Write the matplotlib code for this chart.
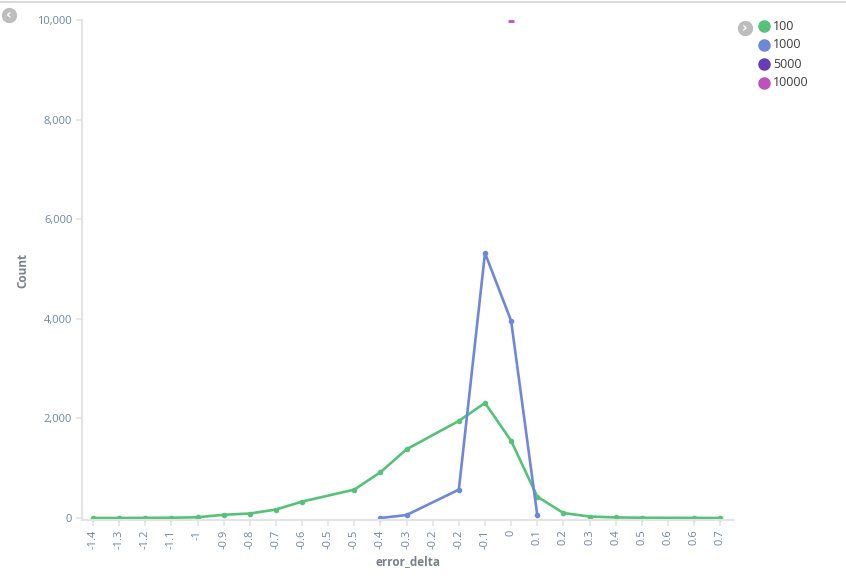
import numpy as np
import matplotlib
matplotlib.use('Agg')
import matplotlib.pyplot as plt
from matplotlib.lines import Line2D

plt.rcParams['font.family'] = ['Open Sans', 'DejaVu Sans']

#%% data (index = position on the x axis)
tick_labels = ['-1.4', '-1.3', '-1.2', '-1.1', '-1', '-0.9', '-0.8', '-0.7', '-0.6',
               '-0.5', '-0.5', '-0.4', '-0.3', '-0.2', '-0.2', '-0.1', '0', '0.1',
               '0.2', '0.3', '0.4', '0.5', '0.6', '0.6', '0.7']
nan = np.nan
count_100 = [0, 0, 3, 5, 15, 65, 90, 170, 330, nan, 570, 920, 1380, nan, 1950,
             2310, 1550, 430, 100, 30, 12, 5, nan, 2, 0]
count_1000 = [nan]*11 + [0, 60, nan, 570, 5320, 3960, 60] + [nan]*7
count_5000 = [nan]*25
count_10000 = [nan]*16 + [9970] + [nan]*8
series_names = ['100', '1000', '5000', '10000']
colors = ['#57c17b', '#6f87d8', '#663db8', '#bc52bc']

tick_col = '#6d84a0'
title_col = '#7b8087'
axis_col = '#e4e4e4'

#%%
fig = plt.figure(figsize=(8.46, 5.8), dpi=100)
ax = fig.add_axes([82/846, 1-520/580, (733-82)/846, 500/580])

x = np.arange(len(tick_labels))
for vals, c in zip([count_100, count_1000, count_5000, count_10000], colors):
    v = np.array(vals, dtype=float)
    ok = ~np.isnan(v)
    if ok.sum() == 0:
        continue
    if ok.sum() == 1:
        ax.plot(x[ok], v[ok], marker='_', ms=4, mew=2, color=c, lw=0, clip_on=True)
    else:
        ax.plot(x[ok], v[ok], color=c, lw=1.9, marker='o', ms=3, clip_on=False)

ax.set_xlim(-0.42, 24.49)
ax.set_ylim(-40, 10000)
ax.set_yticks([0, 2000, 4000, 6000, 8000, 10000])
ax.set_yticklabels(['0', '2,000', '4,000', '6,000', '8,000', '10,000'])
ax.set_xticks(x)
ax.set_xticklabels(tick_labels, rotation=90)

for s in ['top', 'right']:
    ax.spines[s].set_visible(False)
for s in ['left', 'bottom']:
    ax.spines[s].set_color(axis_col)
    ax.spines[s].set_linewidth(1.5)
ax.tick_params(axis='both', colors=axis_col, labelcolor=tick_col, labelsize=8,
               length=4, width=1.2, pad=3)

ax.set_ylabel('Count', fontsize=8.5, fontweight='bold', color=title_col)
ax.yaxis.set_label_coords(-53/651, 0.5)
ax.set_xlabel('error_delta', fontsize=8.5, fontweight='bold', color=title_col, labelpad=4)

# legend
for i, (name, c) in enumerate(zip(series_names, colors)):
    yy = 1 - (26 + 19*i)/580
    fig.add_artist(Line2D([764/846], [yy], marker='o', ms=8, color=c, lw=0,
                          transform=fig.transFigure))
    fig.text(773/846, yy, name, fontsize=9, color='#3a3a3a', va='center', ha='left')

# little nav buttons
for bx, by, ch in [(9, 15, '\u2039'), (745, 28, '\u203a')]:
    fig.add_artist(Line2D([bx/846], [1-by/580], marker='o', ms=10, color='#bdbdbd',
                          lw=0, transform=fig.transFigure))
    fig.text(bx/846, 1-by/580, ch, fontsize=10, color='white', fontweight='bold',
             ha='center', va='center', family='DejaVu Sans')

# top border line
fig.add_artist(Line2D([0, 1], [1-2/580, 1-2/580], color='#d9d9d9', lw=1.5,
                      transform=fig.transFigure))

fig.savefig('out.png', dpi=100)
